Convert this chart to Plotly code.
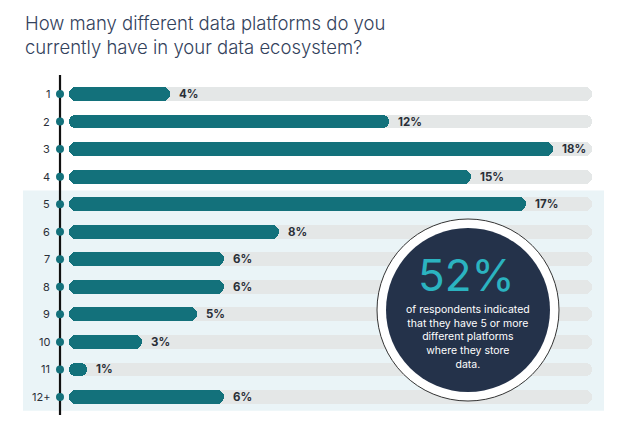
import plotly.graph_objects as go

categories = ["1", "2", "3", "4", "5", "6", "7", "8", "9", "10", "11", "12+"]
values = [4, 12, 18, 15, 17, 8, 6, 6, 5, 3, 1, 6]
value_labels = [f"{v}%" for v in values]

TITLE = "How many different data platforms do you<br>currently have in your data ecosystem?"
CALLOUT_BIG = "52%"
CALLOUT_TEXT = "of respondents indicated<br>that they have 5 or more<br>different platforms<br>where they store<br>data."

TRACK_MAX = 19.4
BAR_START = 0.33

TEAL = "#13717b"
TRACK = "#e4e7e7"
BG = "#eaf4f7"
NAVY = "#24324a"
CYAN = "#2bb3c0"
TEXT = "#2a2f38"
FONT = "Inter"

fig = go.Figure()

# grey tracks
fig.add_trace(go.Bar(
    y=categories, x=[TRACK_MAX - BAR_START] * len(categories), base=BAR_START,
    orientation="h", marker=dict(color=TRACK, cornerradius=7, line=dict(width=0)),
    width=0.5, hoverinfo="skip", showlegend=False))

# value bars
fig.add_trace(go.Bar(
    y=categories, x=[v - BAR_START for v in values], base=BAR_START,
    orientation="h", marker=dict(color=TEAL, cornerradius=7, line=dict(width=0)),
    width=0.5, showlegend=False))

# axis dots
fig.add_trace(go.Scatter(
    y=categories, x=[0] * len(categories), mode="markers",
    marker=dict(color=TEAL, size=8), showlegend=False, cliponaxis=False))

annotations = []
for i, (c, v, lab) in enumerate(zip(categories, values, value_labels)):
    annotations.append(dict(x=v, y=i, xref="x", yref="y", text=f"<b>{lab}</b>",
                            showarrow=False, xanchor="left", xshift=7,
                            font=dict(family=FONT, size=11.5, color=TEXT)))
    annotations.append(dict(x=0, y=i, xref="x", yref="y", text=c,
                            showarrow=False, xanchor="right", xshift=-8,
                            font=dict(family=FONT, size=11, color=TEXT)))

# pixel -> paper helpers (plot area spans x 20..610, y 75..415)
def px_x(p):
    return (p - 20) / 590

def px_y(p):
    return (415 - p) / 340

annotations.append(dict(x=px_x(23), y=px_y(10), xref="paper", yref="paper",
                        text=TITLE, showarrow=False, xanchor="left", yanchor="top",
                        align="left",
                        font=dict(family=FONT, size=18.5, color="#33425c", weight=300)))
annotations.append(dict(x=px_x(466), y=px_y(275), xref="paper", yref="paper",
                        text=CALLOUT_BIG, showarrow=False, height=42,
                        xanchor="center", yanchor="middle", valign="middle",
                        font=dict(family=FONT, size=44, color=CYAN)))
annotations.append(dict(x=px_x(468), y=px_y(337), xref="paper", yref="paper",
                        text=CALLOUT_TEXT, showarrow=False, align="center",
                        xanchor="center", yanchor="middle",
                        font=dict(family=FONT, size=10.5, color="white")))

shapes = [
    # highlighted background block for 5+
    dict(type="rect", xref="paper", yref="y", x0=px_x(23), x1=px_x(604),
         y0=3.5, y1=11.5, fillcolor=BG, line=dict(width=0), layer="below"),
    # vertical axis line
    dict(type="line", xref="x", yref="paper", x0=0, x1=0, y0=0, y1=1,
         line=dict(color="#111111", width=2.2), layer="below"),
    # outer ring
    dict(type="circle", xref="paper", yref="paper",
         x0=px_x(377), x1=px_x(559), y0=px_y(401), y1=px_y(219),
         fillcolor="white", line=dict(color="#333333", width=1)),
    # inner navy disc
    dict(type="circle", xref="paper", yref="paper",
         x0=px_x(386), x1=px_x(550), y0=px_y(392), y1=px_y(228),
         fillcolor=NAVY, line=dict(width=0)),
]

fig.update_layout(
    width=635, height=436,
    margin=dict(l=20, r=25, t=75, b=21),
    paper_bgcolor="white", plot_bgcolor="rgba(0,0,0,0)",
    barmode="overlay", bargap=0,
    xaxis=dict(range=[-1.46, 20.07], visible=False, fixedrange=True),
    yaxis=dict(type="category", categoryorder="array", categoryarray=categories,
               range=[11.653, -0.69], visible=False, fixedrange=True),
    annotations=annotations, shapes=shapes,
    font=dict(family=FONT),
)

fig.write_html("out.html", config={"displayModeBar": False},
               post_script="document.body.style.margin='0';")
